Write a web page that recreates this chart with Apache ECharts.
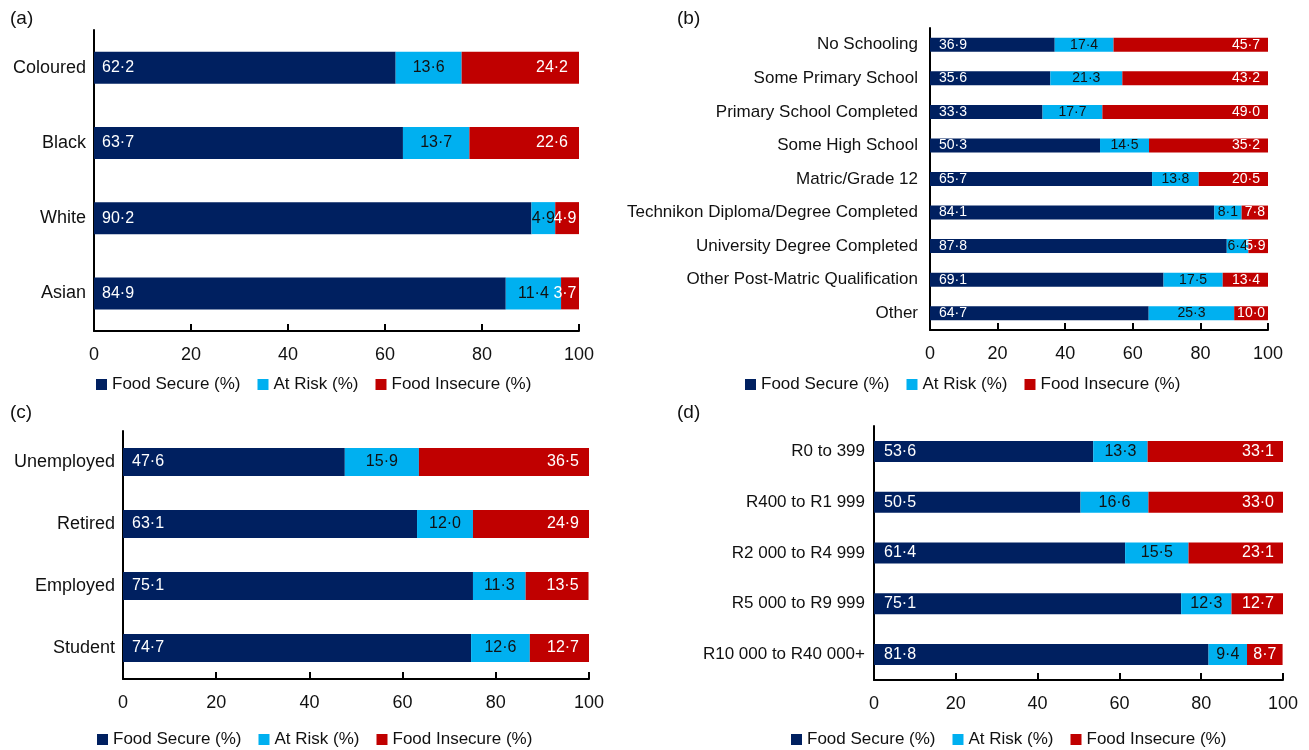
<!DOCTYPE html>
<html>
<head>
<meta charset="utf-8">
<script src="https://cdn.jsdelivr.net/npm/echarts@6/dist/echarts.min.js"></script>
<style>
  html, body { margin: 0; padding: 0; background: #fff; }
  #chart { width: 1309px; height: 750px; }
</style>
</head>
<body>
<div id="chart"></div>
<script>
// Panel (a): population group
const raceCats = ['Coloured', 'Black', 'White', 'Asian'];
const raceSecure = [62.2, 63.7, 90.2, 84.9];
const raceRisk = [13.6, 13.7, 4.9, 11.4];
const raceInsecure = [24.2, 22.6, 4.9, 3.7];

// Panel (b): education
const eduCats = ['No Schooling', 'Some Primary School', 'Primary School Completed', 'Some High School',
  'Matric/Grade 12', 'Technikon Diploma/Degree Completed', 'University Degree Completed',
  'Other Post-Matric Qualification', 'Other'];
const eduSecure = [36.9, 35.6, 33.3, 50.3, 65.7, 84.1, 87.8, 69.1, 64.7];
const eduRisk = [17.4, 21.3, 17.7, 14.5, 13.8, 8.1, 6.4, 17.5, 25.3];
const eduInsecure = [45.7, 43.2, 49.0, 35.2, 20.5, 7.8, 5.9, 13.4, 10.0];

// Panel (c): employment status
const empCats = ['Unemployed', 'Retired', 'Employed', 'Student'];
const empSecure = [47.6, 63.1, 75.1, 74.7];
const empRisk = [15.9, 12.0, 11.3, 12.6];
const empInsecure = [36.5, 24.9, 13.5, 12.7];

// Panel (d): household income
const incCats = ['R0 to 399', 'R400 to R1 999', 'R2 000 to R4 999', 'R5 000 to R9 999', 'R10 000 to R40 000+'];
const incSecure = [53.6, 50.5, 61.4, 75.1, 81.8];
const incRisk = [13.3, 16.6, 15.5, 12.3, 9.4];
const incInsecure = [33.1, 33.0, 23.1, 12.7, 8.7];

const xTicks = [0, 20, 40, 60, 80, 100];
const seriesNames = ['Food Secure (%)', 'At Risk (%)', 'Food Insecure (%)'];
const colors = ['#002060', '#00B0F0', '#C00000'];

const FONT = '"Liberation Sans", Arial, sans-serif';
const fmt = v => v.toFixed(1).replace('.', '\u00B7');

// text width helper, used to keep end labels inside narrow segments
const measureCtx = document.createElement('canvas').getContext('2d');
function textWidth(str, size) {
  measureCtx.font = size + 'px ' + FONT;
  return measureCtx.measureText(str).width;
}

const panels = [
  { tag: '(a)', cats: raceCats, data: [raceSecure, raceRisk, raceInsecure],
    grid: { left: 94, top: 30, width: 485, height: 301 }, barWidth: 32, catSize: 18, catMargin: 8,
    valSize: 16, startGap: 8, endGap: 11,
    tagPos: { left: 5, top: 4 }, legendPos: { left: 91, top: 371 } },
  { tag: '(b)', cats: eduCats, data: [eduSecure, eduRisk, eduInsecure],
    grid: { left: 930, top: 28, width: 338, height: 302 }, barWidth: 14, catSize: 17, catMargin: 12,
    valSize: 14, startGap: 9, endGap: 8,
    tagPos: { left: 672, top: 4 }, legendPos: { left: 740, top: 371 } },
  { tag: '(c)', cats: empCats, data: [empSecure, empRisk, empInsecure],
    grid: { left: 123, top: 431, width: 466, height: 248 }, barWidth: 28, catSize: 18, catMargin: 8,
    valSize: 16, startGap: 9, endGap: 10,
    tagPos: { left: 5, top: 398 }, legendPos: { left: 92, top: 726 } },
  { tag: '(d)', cats: incCats, data: [incSecure, incRisk, incInsecure],
    grid: { left: 874, top: 426, width: 409, height: 254 }, barWidth: 21, catSize: 17, catMargin: 9,
    valSize: 16, startGap: 10, endGap: 9,
    tagPos: { left: 672, top: 398 }, legendPos: { left: 786, top: 726 } }
];

const option = {
  animation: false,
  backgroundColor: '#fff',
  textStyle: { fontFamily: FONT },
  title: [],
  legend: [],
  grid: [],
  xAxis: [],
  yAxis: [],
  series: []
};

panels.forEach((p, i) => {
  const pxPerUnit = p.grid.width / (xTicks[xTicks.length - 1] - xTicks[0]);
  option.title.push({
    text: p.tag, left: p.tagPos.left, top: p.tagPos.top,
    textStyle: { fontFamily: FONT, fontSize: 19, fontWeight: 'normal', color: '#111' }
  });
  option.legend.push({
    data: seriesNames, left: p.legendPos.left, top: p.legendPos.top,
    icon: 'rect', itemWidth: 11, itemHeight: 11, itemGap: 17,
    textStyle: { fontFamily: FONT, fontSize: 17, color: '#111' },
    selectedMode: false
  });
  option.grid.push(Object.assign({ containLabel: false }, p.grid));
  option.xAxis.push({
    type: 'value', gridIndex: i, min: xTicks[0], max: xTicks[xTicks.length - 1], interval: 20,
    axisLine: { show: true, lineStyle: { color: '#000', width: 2 } },
    axisTick: { show: true, inside: true, length: 7, lineStyle: { color: '#000', width: 2 } },
    splitLine: { show: false },
    axisLabel: { fontFamily: FONT, fontSize: 18, color: '#111', margin: 15 }
  });
  option.yAxis.push({
    type: 'category', gridIndex: i, data: p.cats, inverse: true,
    axisLine: { show: true, lineStyle: { color: '#000', width: 2 } },
    axisTick: { show: false },
    axisLabel: { fontFamily: FONT, fontSize: p.catSize, color: '#111', margin: p.catMargin }
  });
  p.data.forEach((vals, k) => {
    const label = k === 0
      ? { show: true, position: 'insideLeft', distance: p.startGap, color: '#fff' }
      : k === 1
        ? { show: true, position: 'inside', color: '#111' }
        : { show: true, position: 'insideRight', distance: p.endGap, color: '#fff' };
    label.fontFamily = FONT;
    label.fontSize = p.valSize;
    label.formatter = q => fmt(q.value);
    const data = vals.map(v => {
      if (k !== 2) return v;
      // narrow end segments: pull the label close to the bar end
      const room = (v * pxPerUnit - textWidth(fmt(v), p.valSize)) / 2;
      const d = Math.max(2.5, Math.min(p.endGap, room));
      return { value: v, label: { distance: d } };
    });
    option.series.push({
      name: seriesNames[k], type: 'bar', stack: 'p' + i,
      xAxisIndex: i, yAxisIndex: i, barWidth: p.barWidth,
      itemStyle: { color: colors[k] },
      label: label,
      data: data
    });
  });
});

const chart = echarts.init(document.getElementById('chart'), null, { renderer: 'canvas' });
chart.setOption(option);
</script>
</body>
</html>
